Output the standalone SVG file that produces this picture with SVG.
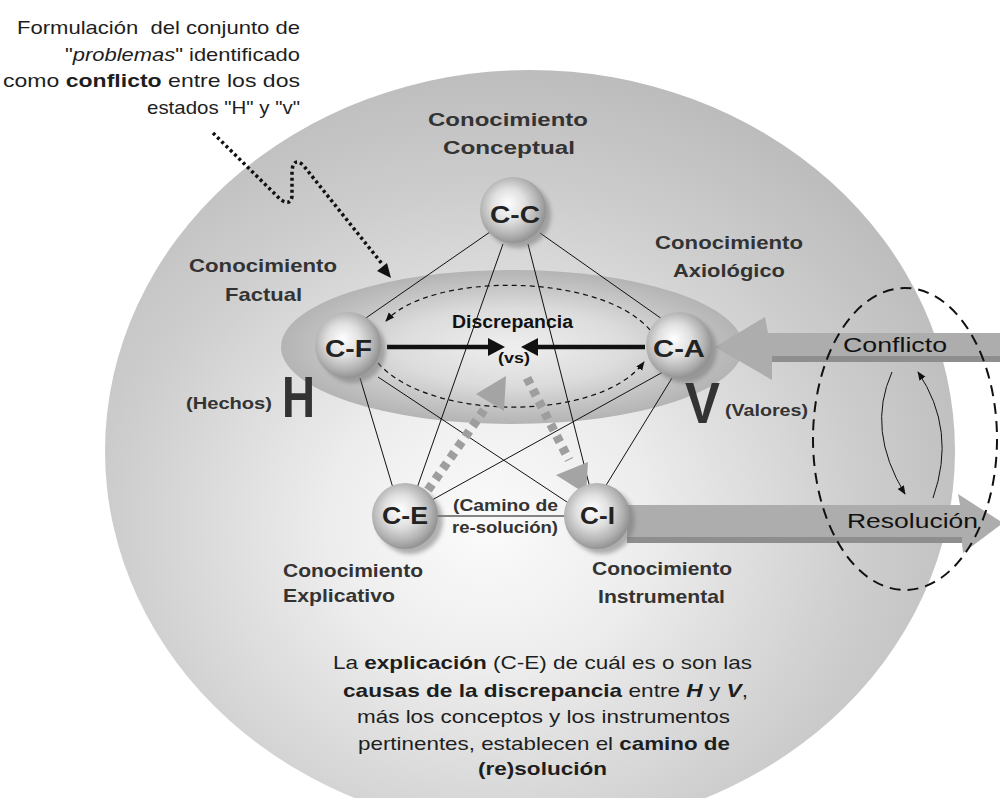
<svg xmlns="http://www.w3.org/2000/svg" width="1000" height="798" viewBox="0 0 1000 798">
<style>
.f{font-family:"Liberation Sans",Arial,Helvetica,sans-serif}
.ann{font-size:19px;fill:#1e1e1e}
.lbl{font-size:19px;font-weight:bold;fill:#333}
.nt{font-size:24px;font-weight:bold;fill:#222}
.edge{stroke:#111;stroke-width:1;fill:none}
.gd{stroke:#9e9e9e;stroke-width:9;stroke-dasharray:7 6;fill:none}
.gh{fill:#a4a4a4}
.blk{fill:#111}
.dash{stroke:#111;stroke-width:1.2;stroke-dasharray:5 4;fill:none}
</style>
<defs>
<radialGradient id="bigG" cx="0.45" cy="0.6" r="0.62">
<stop offset="0" stop-color="#fbfbfb"/>
<stop offset="0.3" stop-color="#ededed"/>
<stop offset="0.7" stop-color="#cecece"/>
<stop offset="1" stop-color="#bbbbbb"/>
</radialGradient>
<radialGradient id="innerG" cx="0.5" cy="0.5" r="0.5">
<stop offset="0" stop-color="#efefef"/>
<stop offset="0.5" stop-color="#dcdcdc"/>
<stop offset="0.8" stop-color="#c3c3c3"/>
<stop offset="1" stop-color="#b4b4b4"/>
</radialGradient>
<radialGradient id="sph" cx="0.45" cy="0.45" r="0.55" fx="0.42" fy="0.4">
<stop offset="0" stop-color="#ffffff"/>
<stop offset="0.45" stop-color="#e0e0e0"/>
<stop offset="0.8" stop-color="#b3b3b3"/>
<stop offset="1" stop-color="#939393"/>
</radialGradient>
<filter id="blur" x="-30%" y="-30%" width="160%" height="160%"><feGaussianBlur stdDeviation="2"/></filter>
<marker id="ah" viewBox="0 0 10 10" refX="9" refY="5" markerWidth="9" markerHeight="9" markerUnits="userSpaceOnUse" orient="auto"><path d="M0,1 L10,5 L0,9 z" fill="#111"/></marker>
</defs>

<g id="background">
<ellipse cx="530" cy="451" rx="425" ry="381" fill="url(#bigG)"/>
<ellipse cx="512" cy="347" rx="231" ry="77" fill="url(#innerG)"/>
</g>

<g id="connectors">
<line class="edge" x1="490" y1="232" x2="363" y2="320"/>
<line class="edge" x1="540" y1="233" x2="662" y2="319"/>
<line class="edge" x1="503" y1="244" x2="417" y2="488"/>
<line class="edge" x1="528" y1="244" x2="590" y2="488"/>
<line class="edge" x1="360" y1="378" x2="393" y2="488"/>
<line class="edge" x1="378" y1="377" x2="573" y2="506"/>
<line class="edge" x1="663" y1="372" x2="432" y2="500"/>
<line class="edge" x1="672" y1="378" x2="605" y2="487"/>
<line class="edge" x1="437" y1="516" x2="566" y2="516"/>
<path class="dash" d="M650,330 C600,272 430,272 386,321" marker-end="url(#ah)"/>
<path class="dash" d="M378,363 C430,422 600,422 644,362" marker-end="url(#ah)"/>
<line x1="387" y1="347" x2="492" y2="347" stroke="#111" stroke-width="4.5"/>
<polygon class="blk" points="488,338 505,347 488,356"/>
<line x1="645" y1="347" x2="534" y2="347" stroke="#111" stroke-width="4.5"/>
<polygon class="blk" points="538,338 521,347 538,356"/>
<path d="M213,133 L281,200 Q291,206 292,196 L292,170 Q294,157 303,165 L383,265" stroke="#111" stroke-width="3.5" stroke-dasharray="3 3" fill="none"/>
<polygon class="blk" points="391,278 387,263 377,271"/>
<g id="conflicto-arrow">
<polygon points="715,347 765,317 768,333 1000,333 1000,362 772,362 772,380" fill="#adadad"/>
<rect x="772" y="356" width="228" height="6" fill="#8e8e8e"/>
</g>
<g id="resolucion-arrow">
<polygon points="627,505 960,505 958,494 1003,523 963,553 962,543 627,543" fill="#adadad"/>
<rect x="627" y="537" width="335" height="6" fill="#8e8e8e"/>
</g>
<line class="gd" x1="428" y1="490" x2="484" y2="410"/>
<polygon class="gh" points="476,394 506,376 504,411"/>
<line class="gd" x1="527" y1="378" x2="569" y2="460"/>
<polygon class="gh" points="556,475 588,462 586,494"/>
<path d="M892,372 Q866,430 905,494" stroke="#111" stroke-width="1" fill="none" marker-end="url(#ah)"/>
<path d="M933,498 Q957,430 918,372" stroke="#111" stroke-width="1" fill="none" marker-end="url(#ah)"/>
</g>

<g id="node-cc">
<circle cx="518" cy="215" r="33" fill="#777" opacity="0.55" filter="url(#blur)"/>
<circle cx="513" cy="210" r="33" fill="url(#sph)"/>
<text class="f nt" x="490" y="223" textLength="50" lengthAdjust="spacingAndGlyphs">C-C</text>
</g>
<g id="node-cf">
<circle cx="353" cy="350" r="33" fill="#777" opacity="0.55" filter="url(#blur)"/>
<circle cx="348" cy="345" r="33" fill="url(#sph)"/>
<text class="f nt" x="325" y="357" textLength="47" lengthAdjust="spacingAndGlyphs">C-F</text>
</g>
<g id="node-ca">
<circle cx="684" cy="350" r="33" fill="#777" opacity="0.55" filter="url(#blur)"/>
<circle cx="679" cy="345" r="33" fill="url(#sph)"/>
<text class="f nt" x="653" y="357" textLength="52" lengthAdjust="spacingAndGlyphs">C-A</text>
</g>
<g id="node-ce">
<circle cx="410" cy="521" r="33" fill="#777" opacity="0.55" filter="url(#blur)"/>
<circle cx="405" cy="516" r="33" fill="url(#sph)"/>
<text class="f nt" x="382" y="524" textLength="46" lengthAdjust="spacingAndGlyphs">C-E</text>
</g>
<g id="node-ci">
<circle cx="602" cy="521" r="33" fill="#777" opacity="0.55" filter="url(#blur)"/>
<circle cx="597" cy="516" r="33" fill="url(#sph)"/>
<text class="f nt" x="580" y="524" textLength="35" lengthAdjust="spacingAndGlyphs">C-I</text>
</g>

<g id="labels">
<text class="f lbl" x="428" y="126" textLength="160" lengthAdjust="spacingAndGlyphs">Conocimiento</text>
<text class="f lbl" x="443" y="154" textLength="132" lengthAdjust="spacingAndGlyphs">Conceptual</text>
<text class="f lbl" x="189" y="272" textLength="148" lengthAdjust="spacingAndGlyphs">Conocimiento</text>
<text class="f lbl" x="225" y="301" textLength="77" lengthAdjust="spacingAndGlyphs">Factual</text>
<text class="f lbl" x="655" y="249" textLength="148" lengthAdjust="spacingAndGlyphs">Conocimiento</text>
<text class="f lbl" x="673" y="277" textLength="112" lengthAdjust="spacingAndGlyphs">Axiológico</text>
<text class="f lbl" x="283" y="577" textLength="140" lengthAdjust="spacingAndGlyphs">Conocimiento</text>
<text class="f lbl" x="283" y="602" textLength="112" lengthAdjust="spacingAndGlyphs">Explicativo</text>
<text class="f lbl" x="592" y="575" textLength="140" lengthAdjust="spacingAndGlyphs">Conocimiento</text>
<text class="f lbl" x="598" y="603" textLength="127" lengthAdjust="spacingAndGlyphs">Instrumental</text>
<text class="f lbl" x="186" y="409" style="font-size:17px" textLength="86" lengthAdjust="spacingAndGlyphs">(Hechos)</text>
<text class="f lbl" x="282" y="417" style="font-size:57px" textLength="33" lengthAdjust="spacingAndGlyphs">H</text>
<text class="f lbl" x="685" y="423" style="font-size:57px" textLength="35" lengthAdjust="spacingAndGlyphs">V</text>
<text class="f lbl" x="725" y="416" style="font-size:17px" textLength="83" lengthAdjust="spacingAndGlyphs">(Valores)</text>
<text class="f lbl" x="452" y="328" style="font-size:18px;fill:#111" textLength="121" lengthAdjust="spacingAndGlyphs">Discrepancia</text>
<text class="f lbl" x="498" y="363" style="font-size:15px;fill:#111" textLength="32" lengthAdjust="spacingAndGlyphs">(vs)</text>
<text class="f lbl" x="453" y="511" style="font-size:16px" textLength="105" lengthAdjust="spacingAndGlyphs">(Camino de</text>
<text class="f lbl" x="452" y="533" style="font-size:16px" textLength="106" lengthAdjust="spacingAndGlyphs">re-solución)</text>
<text class="f ann" x="843" y="352" style="font-size:21px;fill:#111" textLength="104" lengthAdjust="spacingAndGlyphs">Conflicto</text>
<text class="f ann" x="847" y="528" style="font-size:21px;fill:#111" textLength="131" lengthAdjust="spacingAndGlyphs">Resolución</text>
</g>

<g id="annotation">
<text class="f ann" x="17" y="34" xml:space="preserve" textLength="283" lengthAdjust="spacingAndGlyphs">Formulación  del conjunto de</text>
<text class="f ann" x="65" y="61" textLength="235" lengthAdjust="spacingAndGlyphs">"<tspan font-style="italic">problemas</tspan>" identificado</text>
<text class="f ann" x="3" y="87" textLength="297" lengthAdjust="spacingAndGlyphs">como <tspan font-weight="bold">conflicto</tspan> entre los dos</text>
<text class="f ann" x="147" y="114" textLength="153" lengthAdjust="spacingAndGlyphs">estados "H" y "v"</text>
</g>

<g id="explanation">
<text class="f ann" x="333" y="669" textLength="419" lengthAdjust="spacingAndGlyphs">La <tspan font-weight="bold">explicación</tspan> (C-E) de cuál es o son las</text>
<text class="f ann" x="343" y="697" textLength="405" lengthAdjust="spacingAndGlyphs"><tspan font-weight="bold">causas de la discrepancia</tspan> entre <tspan font-weight="bold" font-style="italic">H</tspan> y <tspan font-weight="bold" font-style="italic">V</tspan>,</text>
<text class="f ann" x="357" y="723" textLength="373" lengthAdjust="spacingAndGlyphs">más los conceptos y los instrumentos</text>
<text class="f ann" x="358" y="750" textLength="372" lengthAdjust="spacingAndGlyphs">pertinentes, establecen el <tspan font-weight="bold">camino de</tspan></text>
<text class="f ann" x="478" y="775" font-weight="bold" textLength="129" lengthAdjust="spacingAndGlyphs">(re)solución</text>
</g>

<g id="cycle">
<ellipse cx="905" cy="439" rx="92" ry="151" stroke="#111" stroke-width="2" stroke-dasharray="11 7" fill="none"/>
</g>
</svg>
